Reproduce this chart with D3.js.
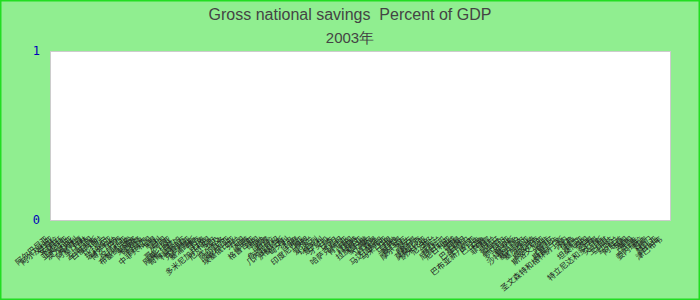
<!DOCTYPE html>
<html>
<head>
<meta charset="utf-8">
<script src="https://cdn.jsdelivr.net/npm/d3@7"></script>
<style>
  body { margin: 0; }
  svg { display: block; }
</style>
</head>
<body>
<div id="chart"></div>
<script>
// Gross national savings, percent of GDP, 2003 (no values reported for that year)

var title = "Gross national savings  Percent of GDP";
var subtitle = "2003年";

// countries on the x axis
var countries = [
  "阿尔巴尼亚", "阿尔及利亚", "安哥拉", "阿根廷", "亚美尼亚", "澳大利亚", "奥地利", "阿塞拜疆",
  "巴林", "孟加拉国", "白俄罗斯", "比利时", "贝宁", "玻利维亚", "博茨瓦纳", "巴西",
  "保加利亚", "布基纳法索", "柬埔寨", "喀麦隆", "加拿大", "中非共和国", "乍得", "智利",
  "中国", "哥伦比亚", "刚果（金）", "哥斯达黎加", "科特迪瓦", "克罗地亚", "塞浦路斯", "捷克",
  "丹麦", "多米尼加共和国", "厄瓜多尔", "埃及", "萨尔瓦多", "爱沙尼亚", "埃塞俄比亚", "芬兰",
  "法国", "加蓬", "格鲁吉亚", "德国", "加纳", "希腊", "危地马拉", "几内亚比绍",
  "洪都拉斯", "匈牙利", "冰岛", "印度", "印度尼西亚", "伊朗", "爱尔兰", "以色列",
  "意大利", "牙买加", "日本", "约旦", "哈萨克斯坦", "肯尼亚", "韩国", "科威特",
  "拉脱维亚", "黎巴嫩", "立陶宛", "卢森堡", "马达加斯加", "马来西亚", "马里", "马耳他",
  "墨西哥", "摩尔多瓦", "蒙古", "摩洛哥", "莫桑比克", "纳米比亚", "尼泊尔", "荷兰",
  "新西兰", "尼加拉瓜", "尼日利亚", "挪威", "阿曼", "巴基斯坦", "巴拿马", "巴布亚新几内亚",
  "巴拉圭", "秘鲁", "菲律宾", "波兰", "葡萄牙", "卡塔尔", "罗马尼亚", "俄罗斯",
  "沙特阿拉伯", "塞内加尔", "塞尔维亚", "新加坡", "斯洛伐克", "斯洛文尼亚", "南非", "西班牙",
  "斯里兰卡", "圣文森特和格林纳丁斯", "苏丹", "瑞典", "瑞士", "坦桑尼亚", "泰国", "多哥",
  "特立尼达和多巴哥", "突尼斯", "土耳其", "乌干达", "乌克兰", "阿联酋", "英国", "美国",
  "乌拉圭", "委内瑞拉", "越南", "也门", "赞比亚", "津巴布韦"
];

// 2003 values: none available, so the plot stays empty
var values = countries.map(function() { return null; });

var yTicks = [0, 1];

var svgWidth = 700;
var svgHeight = 300;

var margin = { top: 51, right: 30, bottom: 80, left: 50 };
var width = svgWidth - margin.left - margin.right;
var height = svgHeight - margin.top - margin.bottom;

var svg = d3.select("#chart")
  .append("svg")
  .attr("width", svgWidth)
  .attr("height", svgHeight);

// background + border
svg.append("rect")
  .attr("x", 0.75)
  .attr("y", 0.75)
  .attr("width", svgWidth - 1.5)
  .attr("height", svgHeight - 1.5)
  .attr("fill", "#90ee90")
  .attr("stroke", "#22dd22")
  .attr("stroke-width", 1.5);

// titles
svg.append("text")
  .attr("x", svgWidth / 2)
  .attr("y", 20)
  .attr("text-anchor", "middle")
  .attr("font-family", "Liberation Sans, Arial, sans-serif")
  .attr("font-size", 16)
  .attr("fill", "#444")
  .style("white-space", "pre")
  .text(title);

svg.append("text")
  .attr("x", svgWidth / 2)
  .attr("y", 43)
  .attr("text-anchor", "middle")
  .attr("font-family", "Liberation Sans, Arial, sans-serif")
  .attr("font-size", 15)
  .attr("fill", "#444")
  .text(subtitle);

var g = svg.append("g")
  .attr("transform", "translate(" + margin.left + "," + margin.top + ")");

// plot area
g.append("rect")
  .attr("x", 0.5)
  .attr("y", 0.5)
  .attr("width", width)
  .attr("height", height)
  .attr("fill", "#fff")
  .attr("stroke", "#ccc");

var x = d3.scaleBand()
  .domain(countries)
  .range([0, width])
  .padding(0.2);

var y = d3.scaleLinear()
  .domain([0, 1])
  .range([height, 0]);

// bars (only where a value exists)
g.selectAll(".bar")
  .data(countries.map(function(c, i) { return { name: c, value: values[i] }; })
    .filter(function(d) { return d.value != null; }))
  .enter()
  .append("rect")
  .attr("class", "bar")
  .attr("x", d => x(d.name))
  .attr("y", d => y(d.value))
  .attr("width", x.bandwidth())
  .attr("height", d => height - y(d.value))
  .attr("fill", "#4472c4");

// y axis labels
var yAxis = g.append("g")
  .call(d3.axisLeft(y).tickValues(yTicks).tickSize(0).tickPadding(10).tickFormat(d3.format("d")));
yAxis.select(".domain").remove();
yAxis.selectAll("text")
  .attr("font-family", "DejaVu Sans Mono, monospace")
  .attr("font-size", 12)
  .attr("fill", "#0000bb");

// x axis labels
var xAxis = g.append("g")
  .attr("transform", "translate(0," + height + ")")
  .call(d3.axisBottom(x).tickSize(0).tickPadding(0));
xAxis.select(".domain").remove();
xAxis.selectAll("text")
  .attr("font-family", "Noto Sans CJK SC, sans-serif")
  .attr("font-size", 8)
  .attr("fill", "#222")
  .attr("text-anchor", "end")
  .attr("dy", "0")
  .attr("transform", "translate(-4,20) rotate(-40)");
</script>
</body>
</html>
